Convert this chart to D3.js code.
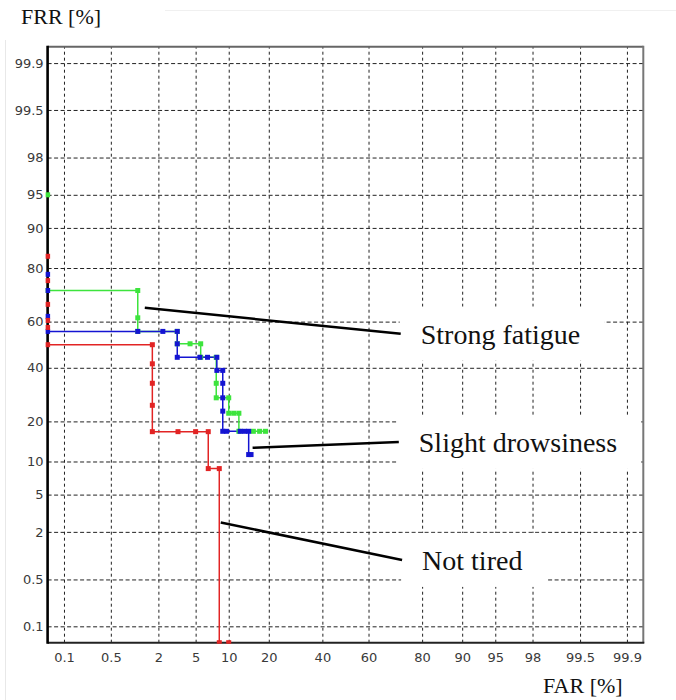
<!DOCTYPE html>
<html>
<head>
<meta charset="utf-8">
<script src="https://cdn.jsdelivr.net/npm/d3@7"></script>
<style>
  body { margin: 0; background: #fff; }
  svg { display: block; }
  .tick text { font-family: "DejaVu Sans", sans-serif; font-size: 13px; fill: #3a3a3a; }
  .grid-x line { stroke: #222; stroke-width: 1; stroke-dasharray: 3,3; }
  .grid-y line { stroke: #222; stroke-width: 1; stroke-dasharray: 4,2.5; }
  .title { font-family: "Liberation Serif", serif; font-size: 22px; fill: #111; }
  .note { font-family: "Liberation Serif", serif; font-size: 28px; fill: #111; }
</style>
</head>
<body>
<svg id="chart" width="676" height="700"></svg>
<script>
// tick values, percent on a normal-deviate (DET) scale
var tickValues = [0.1, 0.5, 2, 5, 10, 20, 40, 60, 80, 90, 95, 98, 99.5, 99.9];

// Not tired (red)
var notTiredFAR = [0, 0, 0, 0, 0, 0, 1.7, 1.7, 1.7, 1.7, 1.7, 3.3, 5.0, 6.6, 6.6, 8.3, 8.3, 10.0];
var notTiredFRR = [83.4, 75.9, 67.1, 60.5, 57.5, 50, 50, 41.7, 33.6, 25.3, 17.0, 17.0, 17.0, 17.0, 8.7, 8.7, 0, 0];

// Slight drowsiness (blue)
var slightFAR = [0, 0, 0, 0, 1.13, 2.25, 3.24, 3.24, 3.24, 5.5, 6.5, 7.9, 7.9, 8.9, 8.9, 8.9, 8.9, 8.9, 9.6, 12.4, 13.4, 14.4, 14.4, 15.0];
var slightFRR = [78, 72.4, 62.2, 55.8, 55.8, 55.8, 55.8, 50.4, 44.5, 44.5, 44.5, 44.5, 38.9, 38.9, 33.6, 28, 23.3, 17.1, 17.1, 17.1, 17.1, 17.1, 11.4, 11.4];

// Strong fatigue (green)
var strongFAR = [0, 0, 1.13, 1.13, 1.13, 3.24, 3.24, 4.4, 5.6, 5.6, 7.8, 7.8, 7.8, 10.0, 10.0, 11.0, 12.1, 12.1, 15.6, 17.3, 19.0];
var strongFRR = [95, 72.4, 72.4, 61.6, 55.8, 55.8, 50.4, 50.4, 50.4, 44.5, 44.5, 33.6, 28, 28, 22.6, 22.6, 22.6, 17.1, 17.1, 17.1, 17.1];

// annotations: label, point on curve [FAR, FRR], end of pointer [FAR, FRR]
var noteLabels = ['Strong fatigue', 'Slight drowsiness', 'Not tired'];
var noteFrom = [[1.38, 65.7], [15.4, 12.9], [8.55, 2.55]];
var noteTo = [[72.8, 54.8], [72.1, 14.3], [73.3, 0.91]];

// inverse normal cdf (Acklam)
function probit(p) {
  var a = [-39.69683028665376, 220.9460984245205, -275.9285104469687, 138.3577518672690, -30.66479806614716, 2.506628277459239],
      b = [-54.47609879822406, 161.5858368580409, -155.6989798598866, 66.80131188771972, -13.28068155288572],
      c = [-0.007784894002430293, -0.3223964580411365, -2.400758277161838, -2.549732539343734, 4.374664141464968, 2.938163982698783],
      d = [0.007784695709041462, 0.3224671290700398, 2.445134137142996, 3.754408661907416];
  var pl = 0.02425, q, r;
  if (p < pl) {
    q = Math.sqrt(-2 * Math.log(p));
    return (((((c[0]*q+c[1])*q+c[2])*q+c[3])*q+c[4])*q+c[5]) / ((((d[0]*q+d[1])*q+d[2])*q+d[3])*q+1);
  }
  if (p > 1 - pl) {
    q = Math.sqrt(-2 * Math.log(1 - p));
    return -(((((c[0]*q+c[1])*q+c[2])*q+c[3])*q+c[4])*q+c[5]) / ((((d[0]*q+d[1])*q+d[2])*q+d[3])*q+1);
  }
  q = p - 0.5; r = q * q;
  return (((((a[0]*r+a[1])*r+a[2])*r+a[3])*r+a[4])*r+a[5])*q / (((((b[0]*r+b[1])*r+b[2])*r+b[3])*r+b[4])*r+1);
}
function pr(v) {
  var p = Math.min(Math.max(v / 100, 1e-6), 1 - 1e-6);
  return probit(p);
}

var plotLeft = 47.6, plotRight = 643.3, plotTop = 46.7, plotBottom = 642.7;

var x = d3.scaleLinear().domain([-3.27, 3.27]).range([plotLeft, plotRight]).clamp(true);
var y = d3.scaleLinear().domain([-3.27, 3.27]).range([plotBottom, plotTop]).clamp(true);

var svg = d3.select('#chart');

// faint scan edges
svg.append('line').attr('x1', 165).attr('x2', 676).attr('y1', 10.5).attr('y2', 10.5)
    .attr('stroke', '#f0f0f0').attr('stroke-width', 1);
svg.append('line').attr('x1', 5.5).attr('x2', 5.5).attr('y1', 40).attr('y2', 700)
    .attr('stroke', '#e8e8e8').attr('stroke-width', 1);

function fmt(v) {
  var i = tickValues.map(pr).indexOf(v);
  return i < 0 ? '' : String(tickValues[i]);
}

var xAxis = d3.axisBottom(x)
    .tickValues(tickValues.map(pr))
    .tickSize(-(plotBottom - plotTop))
    .tickPadding(10)
    .tickFormat(fmt);

var yAxis = d3.axisLeft(y)
    .tickValues(tickValues.map(pr))
    .tickSize(-(plotRight - plotLeft))
    .tickPadding(4)
    .tickFormat(fmt);

var gx = svg.append('g')
    .attr('class', 'grid-x')
    .attr('transform', 'translate(0,' + plotBottom + ')')
    .call(xAxis);
gx.select('.domain').remove();

var gy = svg.append('g')
    .attr('class', 'grid-y')
    .attr('transform', 'translate(' + plotLeft + ',0)')
    .call(yAxis);
gy.select('.domain').remove();

// clips: lines stay inside the frame, markers may sit on the left/bottom axis
svg.append('clipPath').attr('id', 'plot-clip')
  .append('rect')
    .attr('x', plotLeft).attr('y', plotTop)
    .attr('width', plotRight - plotLeft).attr('height', plotBottom - plotTop);
svg.append('clipPath').attr('id', 'mark-clip')
  .append('rect')
    .attr('x', plotLeft - 2).attr('y', plotTop)
    .attr('width', plotRight - plotLeft + 2).attr('height', plotBottom - plotTop + 1);

var series = [
  { far: strongFAR, frr: strongFRR, color: '#3de43d' },
  { far: slightFAR, frr: slightFRR, color: '#1414d2' },
  { far: notTiredFAR, frr: notTiredFRR, color: '#e22424' }
];
series.forEach(function(s) {
  s.pts = s.far.map(function(f, i) { return [f, s.frr[i]]; });
});

var line = d3.line()
    .x(function(d) { return x(pr(d[0])); })
    .y(function(d) { return y(pr(d[1])); });

var lines = svg.append('g').attr('clip-path', 'url(#plot-clip)');
series.forEach(function(s) {
  lines.append('path')
      .datum(s.pts)
      .attr('d', line)
      .attr('fill', 'none')
      .attr('stroke', s.color)
      .attr('stroke-width', 1.5);
});

// label boxes and pointers
noteLabels.forEach(function(label, i) {
  var x0 = x(pr(noteFrom[i][0])), y0 = y(pr(noteFrom[i][1]));
  var x1 = x(pr(noteTo[i][0])), y1 = y(pr(noteTo[i][1]));
  var g = svg.append('g');
  var text = g.append('text')
      .attr('class', 'note')
      .attr('x', x1 + 20)
      .attr('y', y1 + 10)
      .text(label);
  var bbox = text.node().getBBox();
  g.insert('rect', 'text')
      .attr('x', x1 - 1)
      .attr('y', y1 - 27)
      .attr('width', bbox.x + bbox.width + 24 - (x1 - 1))
      .attr('height', 54)
      .attr('fill', '#fff');
  g.append('line')
      .attr('x1', x0).attr('y1', y0)
      .attr('x2', x1).attr('y2', y1)
      .attr('stroke', '#000')
      .attr('stroke-width', 2.5);
});

// frame
svg.append('line').attr('x1', plotLeft).attr('x2', plotRight).attr('y1', plotTop).attr('y2', plotTop)
    .attr('stroke', '#666').attr('stroke-width', 2);
svg.append('line').attr('x1', plotRight).attr('x2', plotRight).attr('y1', plotTop - 1).attr('y2', plotBottom)
    .attr('stroke', '#777').attr('stroke-width', 2);
svg.append('line').attr('x1', plotLeft).attr('x2', plotRight + 1).attr('y1', plotBottom).attr('y2', plotBottom)
    .attr('stroke', '#222').attr('stroke-width', 2);
svg.append('line').attr('x1', plotLeft).attr('x2', plotLeft).attr('y1', plotTop - 1).attr('y2', plotBottom + 1)
    .attr('stroke', '#000').attr('stroke-width', 2.6);

// markers over the frame
var marks = svg.append('g').attr('clip-path', 'url(#mark-clip)');
series.forEach(function(s) {
  marks.append('g').selectAll('rect')
      .data(s.pts)
    .enter().append('rect')
      .attr('x', function(d) { return x(pr(d[0])) - 2.5; })
      .attr('y', function(d) { return y(pr(d[1])) - 2.5; })
      .attr('width', 5)
      .attr('height', 5)
      .attr('fill', s.color);
});

// axis titles
svg.append('text').attr('class', 'title').attr('x', 21).attr('y', 24).text('FRR [%]');
svg.append('text').attr('class', 'title').attr('x', 543).attr('y', 693).text('FAR [%]');
</script>
</body>
</html>
